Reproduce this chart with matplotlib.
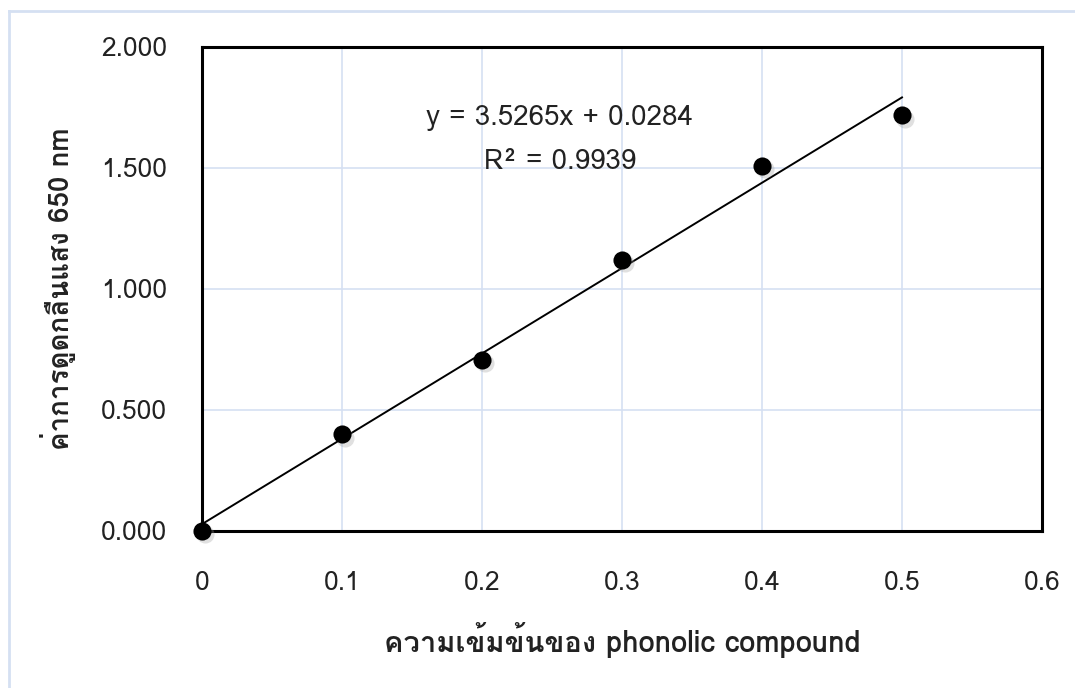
import numpy as np
import matplotlib
matplotlib.use("Agg")
import matplotlib.pyplot as plt
from matplotlib import font_manager
from matplotlib.ft2font import FT2Font
from matplotlib.lines import Line2D

# --- Data ---
conc = [0.0, 0.1, 0.2, 0.3, 0.4, 0.5]
absorb = [0.000, 0.400, 0.707, 1.120, 1.508, 1.718]
slope = 3.5265
intercept = 0.0284
r2 = 0.9939
x_ticks = [0, 0.1, 0.2, 0.3, 0.4, 0.5, 0.6]
x_tick_labels = ["0", "0.1", "0.2", "0.3", "0.4", "0.5", "0.6"]
y_ticks = [0.0, 0.5, 1.0, 1.5, 2.0]
y_tick_labels = ["0.000", "0.500", "1.000", "1.500", "2.000"]
x_label = "ความเข้มข้นของ phonolic compound"
y_label = "ค่าการดูดกลืนแสง 650 nm"


def thai_families():
    """Return installed families that have Thai glyphs."""
    found = []
    for f in font_manager.fontManager.ttflist:
        try:
            cmap = FT2Font(f.fname).get_charmap()
        except Exception:
            continue
        if 0x0E01 in cmap and f.name not in found:
            found.append(f.name)
    return found


thai = thai_families()
families = thai[:1] + ["DejaVu Sans"]
plt.rcParams["font.family"] = families

fig = plt.figure(figsize=(10.75, 6.88), dpi=100)
ax = fig.add_axes([0.1879, 0.2282, 0.9693 - 0.1879, 0.9317 - 0.2282])

grid_c = "#d5e0f2"
text_c = "#222222"
ax.set_xlim(0, 0.6)
ax.set_ylim(0, 2.0)
ax.set_xticks(x_ticks)
ax.set_xticklabels(x_tick_labels)
ax.set_yticks(y_ticks)
ax.set_yticklabels(y_tick_labels)
ax.grid(True, color=grid_c, lw=1.2)
ax.set_axisbelow(True)
ax.tick_params(length=0, labelsize=19, colors=text_c)
ax.tick_params(axis="x", pad=29)
ax.tick_params(axis="y", pad=25)
for sp in ax.spines.values():
    sp.set_linewidth(2.2)
    sp.set_color("black")

# trendline from the fitted equation
xl = np.array([conc[0], conc[-1]])
ax.plot(xl, slope * xl + intercept, color="black", lw=1.4, zorder=3)

# points with a soft shadow
ax.scatter(np.array(conc) + 0.002, np.array(absorb) - 0.014, s=170,
           color="#999999", alpha=0.3, lw=0, zorder=4, clip_on=False)
ax.scatter(conc, absorb, s=170, color="black", lw=0, zorder=5, clip_on=False)

ax.text(0.2557, 1.707, f"y = {slope}x + {intercept}", ha="center",
        va="center", fontsize=20, color=text_c)
ax.text(0.2557, 1.525, f"R² = {r2}", ha="center", va="center",
        fontsize=20, color=text_c)

ax.set_xlabel(x_label, fontsize=21, fontweight="bold", labelpad=19,
              color=text_c)
ax.set_ylabel(y_label, fontsize=20, fontweight="bold", labelpad=18,
              color=text_c)

# chart-area border (left and top edges visible)
border = "#d5e0f2"
fig.add_artist(Line2D([8.5 / 1075, 8.5 / 1075], [0, 1 - 11 / 688],
                      color=border, lw=2, transform=fig.transFigure))
fig.add_artist(Line2D([8.5 / 1075, 1], [1 - 11 / 688, 1 - 11 / 688],
                      color=border, lw=2, transform=fig.transFigure))

fig.savefig("out.png", dpi=100)
